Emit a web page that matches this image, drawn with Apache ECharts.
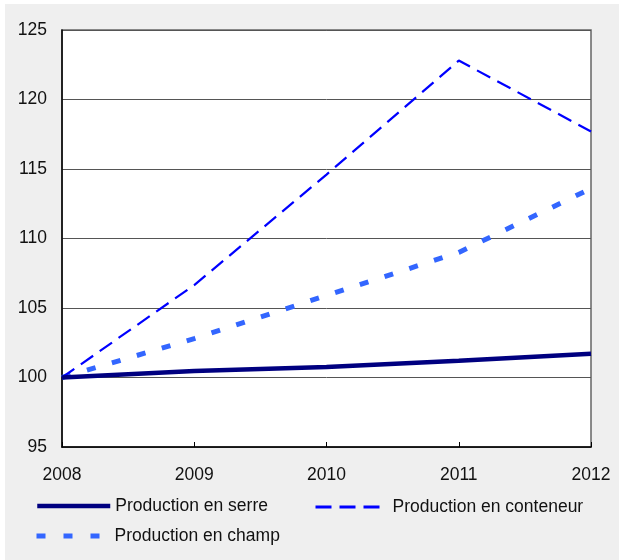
<!DOCTYPE html>
<html>
<head>
<meta charset="utf-8">
<script src="https://cdn.jsdelivr.net/npm/echarts@6/dist/echarts.min.js"></script>
<style>
html,body{margin:0;padding:0;background:#fff;}
#c{width:619px;height:560px;}
</style>
</head>
<body>
<div id="c"></div>
<script>
const years = ['2008', '2009', '2010', '2011', '2012'];
const serre = [100, 100.47, 100.75, 101.2, 101.7];
const conteneur = [100, 106.65, 114.6, 122.8, 117.7];
const champ = [100, 102.8, 105.9, 109.0, 113.6];
const seriesNames = ['Production en serre', 'Production en conteneur', 'Production en champ'];

const font = 'Liberation Sans, Arial, sans-serif';
const fs = 17.5;
const chart = echarts.init(document.getElementById('c'), null, {renderer: 'canvas'});
const legendText = (pad) => ({fontFamily: font, fontSize: fs, color: '#111', padding: [0, 0, 0, pad]});
chart.setOption({
  backgroundColor: '#fff',
  animation: false,
  graphic: [{
    type: 'rect', shape: {x: 5, y: 4, width: 614, height: 556},
    style: {fill: '#efefef'}, z: -10, silent: true
  }],
  grid: {
    left: 62, top: 30, width: 529, height: 417,
    show: true, backgroundColor: '#fff', borderColor: '#666', borderWidth: 1.5
  },
  legend: [
    {data: [seriesNames[0]], left: 35, top: 497, padding: 0, itemWidth: 73, itemHeight: 20,
     itemStyle: {opacity: 0}, lineStyle: {width: 4.5},
     textStyle: legendText(0)},
    {data: [seriesNames[1]], left: 314, top: 498, padding: 0, itemWidth: 65, itemHeight: 20,
     itemStyle: {opacity: 0}, lineStyle: {width: 3, type: [16, 8]},
     textStyle: legendText(7)},
    {data: [seriesNames[2]], left: 34, top: 527, padding: 0, itemWidth: 63, itemHeight: 20,
     itemStyle: {opacity: 0}, lineStyle: {width: 5, type: [9, 18]},
     textStyle: legendText(10)}
  ],
  xAxis: {
    type: 'category', data: years, boundaryGap: false,
    axisLine: {lineStyle: {color: '#000', width: 1.5}},
    axisTick: {inside: true, length: 5, lineStyle: {color: '#000'}},
    axisLabel: {fontFamily: font, fontSize: fs, color: '#111', margin: 19},
    splitLine: {show: false}
  },
  yAxis: {
    type: 'value', min: 95, max: 125, interval: 5,
    axisLine: {show: true, lineStyle: {color: '#000', width: 1.5}},
    axisTick: {show: false},
    axisLabel: {fontFamily: font, fontSize: fs, color: '#111', margin: 15},
    splitLine: {show: true, lineStyle: {color: '#555', width: 1}}
  },
  series: [
    {name: seriesNames[0], type: 'line', data: serre, symbol: 'none', z: 5,
     lineStyle: {color: '#000080', width: 4.5}, itemStyle: {color: '#000080'}},
    {name: seriesNames[1], type: 'line', data: conteneur, symbol: 'none', z: 4,
     lineStyle: {color: '#0000ff', width: 2.2, type: [15, 8]}, itemStyle: {color: '#0000ff'}},
    {name: seriesNames[2], type: 'line', data: champ, symbol: 'none', z: 3,
     lineStyle: {color: '#3366ff', width: 5, type: [9, 17]}, itemStyle: {color: '#3366ff'}}
  ]
});
</script>
</body>
</html>
